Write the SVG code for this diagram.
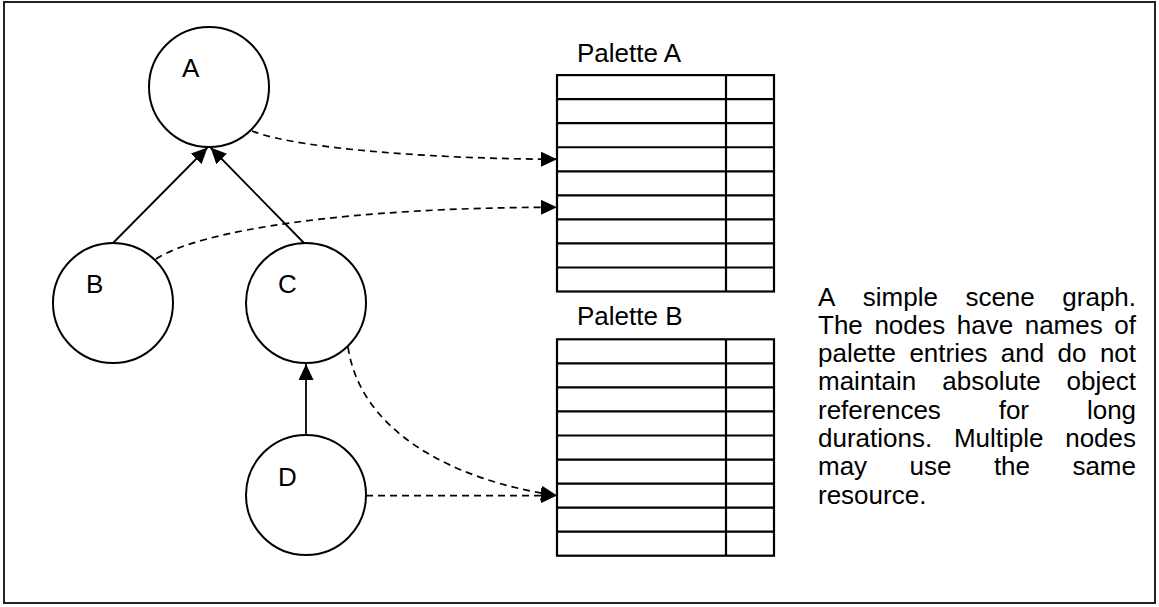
<svg xmlns="http://www.w3.org/2000/svg" width="1159" height="607" viewBox="0 0 1159 607">
<defs>
<marker id="tri" markerUnits="userSpaceOnUse" markerWidth="16" markerHeight="15" refX="16" refY="7.5" orient="auto">
<path d="M0,0 L16,7.5 L0,15 z" fill="#000"/>
</marker>
<style>
text{font-family:"Liberation Sans",Arial,sans-serif;font-size:26px;fill:#000}
.node{fill:#fff;stroke:#000;stroke-width:2}
.pal{fill:#fff;stroke:#000;stroke-width:2.2}
.solid{fill:none;stroke:#000;stroke-width:1.8;marker-end:url(#tri)}
.dash{fill:none;stroke:#000;stroke-width:1.7;stroke-dasharray:7 5;marker-end:url(#tri)}
</style>
</defs>
<rect x="4" y="2" width="1151" height="601" fill="#fff" stroke="#222" stroke-width="2"/>

<g id="nodeA"><circle class="node" cx="209" cy="87" r="60"/><text x="182" y="77">A</text></g>
<g id="nodeB"><circle class="node" cx="113" cy="303" r="60"/><text x="86" y="293">B</text></g>
<g id="nodeC"><circle class="node" cx="306" cy="303" r="60"/><text x="278" y="293">C</text></g>
<g id="nodeD"><circle class="node" cx="306" cy="495" r="60"/><text x="278" y="486">D</text></g>

<g id="paletteA">
<text x="577" y="62">Palette A</text>
<rect class="pal" x="557" y="75.1" width="217" height="216.4"/>
<path class="pal" d="M557,99.15H774M557,123.2H774M557,147.25H774M557,171.3H774M557,195.35H774M557,219.4H774M557,243.45H774M557,267.5H774M726,75.1V291.5"/>
</g>

<g id="paletteB">
<text x="577" y="325">Palette B</text>
<rect class="pal" x="557" y="339.3" width="217" height="216.4"/>
<path class="pal" d="M557,363.35H774M557,387.4H774M557,411.45H774M557,435.5H774M557,459.55H774M557,483.6H774M557,507.65H774M557,531.7H774M726,339.3V555.7"/>
</g>

<g id="connectors">
<path class="solid" d="M113,243 L207.5,147.5"/>
<path class="solid" d="M304,243 L210.5,147.5"/>
<path class="solid" d="M306,435 L306,364"/>
<path class="dash" d="M252,131 C300,150 450,159.2 557,159.2"/>
<path class="dash" d="M156,259 C200,230 350,207.3 557,207.3"/>
<path class="dash" d="M348,347 C360,430 450,480 557,495.6"/>
<path class="dash" d="M366,495.6 L557,495.6"/>
</g>

<g id="caption">
<text y="305.5"><tspan x="818">A</tspan><tspan x="862.8">simple</tspan><tspan x="965.4">scene</tspan><tspan x="1062.3">graph.</tspan></text>
<text y="333.8"><tspan x="818">The</tspan><tspan x="874.4">nodes</tspan><tspan x="956.8">have</tspan><tspan x="1024.7">names</tspan><tspan x="1114.3">of</tspan></text>
<text y="362.1"><tspan x="818">palette</tspan><tspan x="909.4">entries</tspan><tspan x="1000.8">and</tspan><tspan x="1057.6">do</tspan><tspan x="1099.9">not</tspan></text>
<text y="390.4"><tspan x="818">maintain</tspan><tspan x="942.3">absolute</tspan><tspan x="1066.6">object</tspan></text>
<text y="418.7"><tspan x="818">references</tspan><tspan x="998.7">for</tspan><tspan x="1086.9">long</tspan></text>
<text y="447"><tspan x="818">durations.</tspan><tspan x="953.9">Multiple</tspan><tspan x="1065.2">nodes</tspan></text>
<text y="475.3"><tspan x="818">may</tspan><tspan x="909.5">use</tspan><tspan x="993.9">the</tspan><tspan x="1072.4">same</tspan></text>
<text y="503.6" x="818">resource.</text>
</g>
</svg>
